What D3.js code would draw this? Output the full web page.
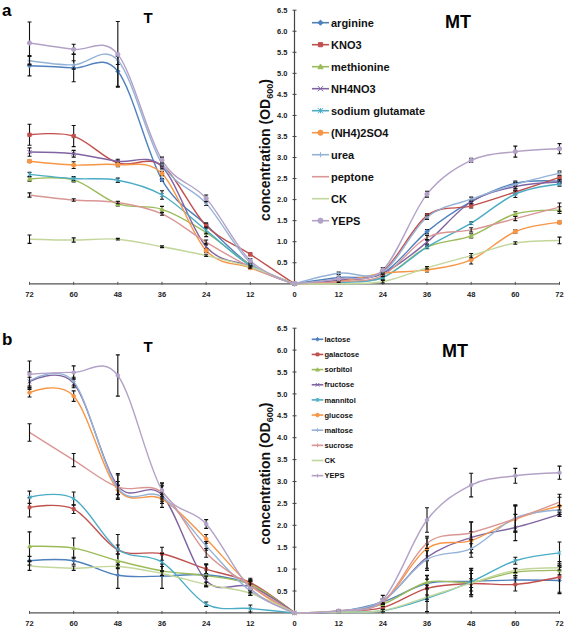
<!DOCTYPE html>
<html><head><meta charset="utf-8">
<script src="https://cdn.jsdelivr.net/npm/d3@7"></script>
<style>body{margin:0;background:#fff}svg{display:block;font-family:"Liberation Sans",Arial,sans-serif}</style>
</head><body><svg id="c" width="567" height="628"></svg>
<script>
const categories = ["72","60","48","36","24","12","0","12","24","36","48","60","72"];
const yTicks = [0.5,1.0,1.5,2.0,2.5,3.0,3.5,4.0,4.5,5.0,5.5,6.0,6.5];

// Panel a: nitrogen sources
const namesA = ["arginine","KNO3","methionine","NH4NO3","sodium glutamate","(NH4)2SO4","urea","peptone","CK","YEPS"];
const arginine   = [5.18,5.13,5.05,2.47,1.40,0.45,0,0.15,0.25,1.24,1.95,2.39,2.44];
const KNO3       = [3.54,3.51,2.87,2.81,1.38,0.70,0,0.08,0.30,1.62,1.85,2.18,2.53];
const methionine = [2.49,2.47,1.90,1.77,1.22,0.45,0,0.05,0.15,0.87,1.14,1.66,1.75];
const NH4NO3     = [3.13,3.09,2.91,2.78,0.88,0.42,0,0.08,0.25,0.99,1.95,2.31,2.42];
const sodGlu     = [2.60,2.50,2.46,2.11,1.27,0.43,0,0.03,0.15,0.87,1.44,2.13,2.37];
const NH42SO4    = [2.91,2.82,2.83,2.62,0.79,0.38,0,0.05,0.25,0.33,0.57,1.24,1.46];
const urea       = [5.30,5.20,5.31,2.85,1.91,0.50,0,0.25,0.28,1.58,2.01,2.36,2.63];
const peptone    = [2.11,1.99,1.93,1.66,0.99,0.40,0,0.05,0.20,1.10,1.28,1.55,1.82];
const CK_A       = [1.06,1.04,1.06,0.88,0.67,0.40,0,0.00,0.05,0.38,0.67,0.97,1.03];
const YEPS_A     = [5.72,5.57,5.45,2.94,2.03,0.55,0,0.12,0.33,2.13,2.93,3.14,3.21];
const errA = [
  [0.24,0.33,0.36,0.03,0.05,0.03,0,0.03,0.03,0.05,0.05,0.05,0.05],
  [0.25,0.25,0.05,0.05,0.05,0.03,0,0.03,0.08,0.05,0.05,0.05,0.12],
  [0.05,0.05,0.05,0.07,0.10,0.03,0,0.00,0.05,0.03,0.05,0.05,0.08],
  [0.10,0.08,0.05,0.05,0.08,0.03,0,0.03,0.05,0.05,0.05,0.05,0.05],
  [0.05,0.05,0.05,0.10,0.08,0.03,0,0.02,0.05,0.03,0.03,0.08,0.05],
  [0.03,0.08,0.05,0.05,0.05,0.03,0,0.02,0.03,0.05,0.10,0.04,0.03],
  [0.10,0.10,0.10,0.05,0.05,0.03,0,0.03,0.03,0.05,0.05,0.05,0.05],
  [0.05,0.03,0.03,0.03,0.05,0.03,0,0.02,0.03,0.05,0.05,0.05,0.10],
  [0.10,0.05,0.02,0.02,0.02,0.02,0,0.00,0.03,0.03,0.05,0.03,0.08],
  [0.50,0.12,0.78,0.07,0.08,0.05,0,0.03,0.05,0.07,0.05,0.13,0.12]
];

// Panel b: carbon sources
const namesB = ["lactose","galactose","sorbitol","fructose","mannitol","glucose","maltose","sucrose","CK","YEPS"];
const lactose   = [1.19,1.19,0.86,0.84,0.87,0.65,0,0.03,0.25,0.67,0.72,0.75,0.74];
const galactose = [2.41,2.37,1.44,1.35,1.00,0.69,0,0.03,0.12,0.56,0.67,0.65,0.82];
const sorbitol  = [1.52,1.48,1.19,0.96,0.85,0.65,0,0.03,0.20,0.70,0.70,0.93,0.97];
const fructose  = [5.28,5.24,2.90,2.69,0.74,0.60,0,0.04,0.27,1.27,1.72,1.95,2.25];
const mannitol  = [2.64,2.61,1.45,1.16,0.20,0.10,0,0.02,0.05,0.33,0.71,1.19,1.37];
const glucose   = [5.03,4.95,2.81,2.60,1.69,0.63,0,0.04,0.25,1.47,1.65,2.14,2.44];
const maltose   = [5.30,5.28,2.85,2.65,1.53,0.50,0,0.04,0.28,1.22,1.47,2.17,2.35];
const sucrose   = [4.12,3.49,2.87,2.75,1.37,0.62,0,0.05,0.25,1.59,1.83,2.15,2.53];
const CK_B      = [1.07,1.02,1.06,0.90,0.65,0.45,0,0.02,0.05,0.36,0.68,0.97,1.03];
const YEPS_B    = [5.45,5.49,5.42,2.80,2.03,0.56,0,0.05,0.30,2.12,2.92,3.13,3.20];
const errB = [
  [0.10,0.08,0.30,0.28,0.25,0.10,0,0.01,0.05,0.10,0.30,0.10,0.30],
  [0.22,0.10,0.35,0.15,0.10,0.10,0,0.01,0.05,0.30,0.30,0.15,0.35],
  [0.33,0.23,0.15,0.10,0.25,0.10,0,0.01,0.05,0.15,0.20,0.08,0.10],
  [0.10,0.10,0.28,0.28,0.10,0.15,0,0.01,0.05,0.30,0.35,0.30,0.05],
  [0.14,0.15,0.10,0.20,0.05,0.08,0,0.01,0.02,0.30,0.30,0.08,0.25],
  [0.10,0.12,0.10,0.10,0.10,0.10,0,0.01,0.05,0.28,0.20,0.30,0.20],
  [0.20,0.10,0.15,0.10,0.10,0.10,0,0.01,0.05,0.20,0.20,0.30,0.10],
  [0.20,0.15,0.28,0.15,0.10,0.10,0,0.01,0.05,0.12,0.25,0.30,0.18],
  [0.10,0.05,0.05,0.05,0.05,0.05,0,0.00,0.03,0.05,0.10,0.05,0.05],
  [0.30,0.15,0.47,0.15,0.10,0.10,0,0.01,0.10,0.28,0.27,0.17,0.15]
];

const colors = ["#4F81BD","#C0504D","#9BBB59","#8064A2","#4BACC6","#F79646","#95B3D7","#D99694","#C3D69B","#B3A2C7"];
const shapes = ["diamond","square","triangle","x","star","circle","plus","none","none","circle"];

const svg = d3.select("#c");

function markerPath(shape, r){
  switch(shape){
    case "diamond": return `M0,${-r}L${r},0L0,${r}L${-r},0Z`;
    case "square": return `M${-r*0.8},${-r*0.8}h${1.6*r}v${1.6*r}h${-1.6*r}Z`;
    case "triangle": return `M0,${-r}L${r},${r*0.8}L${-r},${r*0.8}Z`;
    case "x": return `M${-r},${-r}L${r},${r}M${-r},${r}L${r},${-r}`;
    case "star": return `M${-r},${-r}L${r},${r}M${-r},${r}L${r},${-r}M0,${-r}L0,${r}`;
    case "plus": return `M${-r},0L${r},0M0,${-r}L0,${r}`;
    case "circle": return d3.symbol(d3.symbolCircle, Math.PI*r*r)();
    default: return "";
  }
}
const filled = s => s==="diamond"||s==="square"||s==="triangle"||s==="circle";

function panel(cfg){
  const x = d3.scalePoint().domain(d3.range(categories.length)).range([29.5,559.5]);
  const y = d3.scaleLinear().domain([0,6.5]).range([cfg.y0, cfg.yTop]);
  const g = svg.append("g");
  const xc = x(6);

  // x axis
  g.append("line").attr("x1",x(0)).attr("x2",x(12)).attr("y1",y(0)).attr("y2",y(0))
    .attr("stroke","#555").attr("stroke-width",1.2);
  g.selectAll(".xt").data(d3.range(13)).join("line")
    .attr("x1",i=>x(i)).attr("x2",i=>x(i)).attr("y1",y(0)-2).attr("y2",y(0)+1)
    .attr("stroke","#555").attr("stroke-width",1);
  g.selectAll(".xl").data(d3.range(13)).join("text")
    .attr("x",i=>x(i)).attr("y",y(0)+13.5).attr("text-anchor","middle")
    .attr("font-size",7.5).attr("font-weight","bold").attr("fill","#222")
    .text(i=>categories[i]);

  // y axis
  g.append("line").attr("x1",xc).attr("x2",xc).attr("y1",y(0)).attr("y2",y(6.5))
    .attr("stroke","#444").attr("stroke-width",1.2);
  g.selectAll(".yt").data(yTicks).join("line")
    .attr("x1",xc-2).attr("x2",xc+2).attr("y1",d=>y(d)).attr("y2",d=>y(d))
    .attr("stroke","#444").attr("stroke-width",1);
  g.selectAll(".yl").data(yTicks).join("text")
    .attr("x",xc-7).attr("y",d=>y(d)).attr("dy","0.35em").attr("text-anchor","end")
    .attr("font-size",7.5).attr("font-weight","bold").attr("fill","#222")
    .text(d3.format(".1f"));

  // axis title
  const t = g.append("text").attr("transform",`translate(${xc-25},${(y(0)+y(6.5))/2+3}) rotate(-90)`)
    .attr("text-anchor","middle").attr("font-size",14).attr("font-weight","bold").attr("fill","#111");
  t.append("tspan").text("concentration (OD");
  t.append("tspan").attr("font-size",9).attr("dy",3).text("600");
  t.append("tspan").attr("dy",-3).text(")");

  // titles
  g.append("text").attr("x",148).attr("y",cfg.y0-260.5).attr("text-anchor","middle")
    .attr("font-size",15).attr("font-weight","bold").attr("fill","#000").text("T");
  g.append("text").attr("x",cfg.mtX).attr("y",cfg.y0-255.5).attr("text-anchor","middle")
    .attr("font-size",18).attr("font-weight","bold").attr("fill","#000").text("MT");
  g.append("text").attr("x",2).attr("y",cfg.y0-268.3)
    .attr("font-size",17).attr("font-weight","bold").attr("fill","#000").text(cfg.letter);

  const line = d3.line().x(d=>x(d.i)).y(d=>y(d.v)).curve(d3.curveCardinal.tension(0));

  cfg.series.forEach((vals, s)=>{
    const pts = vals.map((v,i)=>({i,v,e:cfg.errs[s][i]}));
    const col = colors[s];
    const sg = g.append("g");
    [pts.slice(0,7), pts.slice(6)].forEach(part=>{
      sg.append("path").attr("d",line(part)).attr("fill","none")
        .attr("stroke",col).attr("stroke-width",1.4);
    });
    // error bars
    const eb = pts.filter(p=>p.e>0);
    sg.selectAll(".eb").data(eb).join("path")
      .attr("d",p=>`M${x(p.i)},${y(p.v-p.e)}V${y(p.v+p.e)}M${x(p.i)-2},${y(p.v-p.e)}h4M${x(p.i)-2},${y(p.v+p.e)}h4`)
      .attr("stroke","#111").attr("stroke-width",1.1).attr("fill","none");
    // markers
    if(shapes[s]!=="none"){
      sg.selectAll(".mk").data(pts).join("path")
        .attr("transform",p=>`translate(${x(p.i)},${y(p.v)})`)
        .attr("d",markerPath(shapes[s], cfg.mr))
        .attr("fill",filled(shapes[s])?col:"none").attr("stroke",col).attr("stroke-width",1);
    }
  });

  // legend
  const L = cfg.legend;
  cfg.names.forEach((n,s)=>{
    const ly = L.y + L.dy*s;
    const col = colors[s];
    g.append("line").attr("x1",L.x1).attr("x2",L.x2).attr("y1",ly).attr("y2",ly)
      .attr("stroke",col).attr("stroke-width",1.6);
    const sh = cfg.legendShapes[s];
    if(sh!=="none"){
      g.append("path").attr("transform",`translate(${(L.x1+L.x2)/2},${ly})`)
        .attr("d",markerPath(sh,L.mr)).attr("fill",filled(sh)?col:"none")
        .attr("stroke",col).attr("stroke-width",1);
    }
    g.append("text").attr("x",L.tx).attr("y",ly).attr("dy","0.35em")
      .attr("font-size",L.fs).attr("font-weight","bold").attr("fill","#111").text(n);
  });
}

panel({
  letter:"a", y0:283.8, yTop:10.2, mtX:458,
  series:[arginine,KNO3,methionine,NH4NO3,sodGlu,NH42SO4,urea,peptone,CK_A,YEPS_A],
  errs:errA, names:namesA, mr:2.1,
  legendShapes:shapes,
  legend:{x1:312,x2:329,y:22.7,dy:22,tx:331,fs:11,mr:2.6}
});
panel({
  letter:"b", y0:612.9, yTop:328.2, mtX:455,
  series:[lactose,galactose,sorbitol,fructose,mannitol,glucose,maltose,sucrose,CK_B,YEPS_B],
  errs:errB, names:namesB, mr:1.8,
  legendShapes:["diamond","square","triangle","x","star","circle","plus","plus","none","plus"],
  legend:{x1:311.7,x2:323.3,y:339.3,dy:15.15,tx:324.5,fs:7.5,mr:1.8}
});
</script></body></html>
